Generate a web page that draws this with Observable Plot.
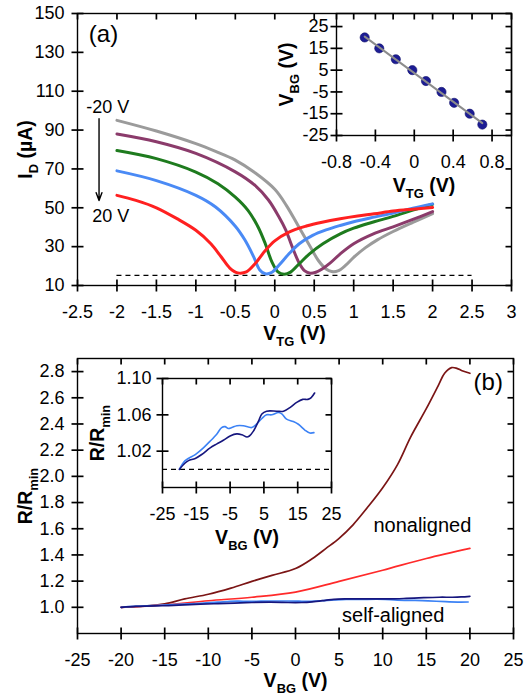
<!DOCTYPE html>
<html><head><meta charset="utf-8">
<script src="https://cdn.jsdelivr.net/npm/d3@7"></script>
<script src="https://cdn.jsdelivr.net/npm/@observablehq/plot@0.6"></script>
<style>
body{margin:0;background:#fff;}
#wrap{position:relative;width:532px;height:695px;overflow:hidden;background:#fff;}
#wrap > svg{position:absolute;left:0;}
</style></head><body><div id="wrap"></div>
<script>
// ================= Panel (a) data =================
const aXTicks = [-2.5,-2,-1.5,-1,-0.5,0,0.5,1,1.5,2,2.5,3];
const aYTicks = [10,30,50,70,90,110,130,150];
const curveNames = ["-20 V","-10 V","0 V","10 V","20 V"];

const grayX   = [-2,-1.5,-1,-0.75,-0.5,-0.25,0,0.15,0.3,0.45,0.55,0.65,0.72,0.8,0.9,1.0,1.15,1.3,1.5,1.75,2];
const grayY   = [95,89.5,83,79,74.5,68,59.5,51,40.5,30,23,18.5,17.2,17.5,20.5,24.5,29.5,33.5,37.8,42.5,47];
const purpleX = [-2,-1.5,-1,-0.5,-0.25,-0.08,0.05,0.14,0.22,0.31,0.38,0.45,0.52,0.6,0.7,0.83,1.0,1.25,1.5,1.75,2];
const purpleY = [88,84,78,68.5,61.5,54,45.5,38.5,30,21.5,17.5,16.3,16.8,18.5,21.5,26.3,31.5,36.6,40.2,44,48];
const greenX  = [-2,-1.5,-1,-0.72,-0.5,-0.34,-0.21,-0.12,-0.035,0.04,0.12,0.2,0.31,0.44,0.61,0.83,1.0,1.26,1.5,1.75,2];
const greenY  = [79.5,75.3,68.4,62.4,55.5,48.7,40,31.5,22,17,15.8,16.9,21.2,26.3,31.5,36.6,39.5,42.8,45.6,48.8,51.8];
const blueX   = [-2,-1.5,-1,-0.75,-0.5,-0.38,-0.27,-0.19,-0.12,-0.035,0.05,0.18,0.31,0.48,0.65,0.83,1.0,1.26,1.5,1.75,2];
const blueY   = [69,64,56.4,50.4,40.5,33.5,25,18,16,16.8,20.3,26.3,31.5,35.8,38.6,40.9,42.8,45.2,47.3,49.8,52];
const redX    = [-2,-1.76,-1.5,-1.24,-1,-0.81,-0.68,-0.57,-0.47,-0.36,-0.25,-0.12,0,0.18,0.4,0.6,0.83,1.05,1.26,1.5,1.75,2];
const redY    = [56.4,53.8,50,44.4,38.4,31.5,24.8,19,16.5,17,21.2,28,33,37.5,40.6,42.6,44.4,45.8,46.9,48.3,49.3,50.2];

const aDashLevel = [15.2];
const aDashFrom = -2, aDashTo = 2.5;
const aArrowX = -2.227, aArrowFrom = 95.8, aArrowTo = 53.7;
const aNoteText = ["(a)", "-20 V", "20 V"];
const aNoteX = [-2.17, -2.116, -2.08];
const aNoteY = [139.5, 101.8, 45.5];

// Inset (a): Dirac point position vs back gate
const insetAXTicks = [-0.8,-0.4,0,0.4,0.8];
const insetAYTicks = [-25,-15,-5,5,15,25];
const diracVTG = [-0.51,-0.36,-0.19,-0.02,0.12,0.28,0.41,0.57,0.70];
const diracVBG = [20,15,10,5,0,-5,-10,-15,-20];

// ================= Panel (b) data =================
const bXTicks = [-25,-20,-15,-10,-5,0,5,10,15,20,25];
const bYTicks = [1.0,1.2,1.4,1.6,1.8,2.0,2.2,2.4,2.6,2.8];
const darkRedX = [-20,-17.5,-15,-12.7,-10,-7.4,-5,-2.7,0,1.95,3.5,5,6.6,8.2,10,11.7,13.2,15,16.4,17.1,17.9,18.5,19.1,20];
const darkRedY = [1.0,1.008,1.026,1.064,1.10,1.147,1.198,1.244,1.296,1.373,1.45,1.527,1.63,1.758,1.913,2.09,2.30,2.517,2.697,2.787,2.83,2.825,2.807,2.787];
const lightRedX = [-20,-15,-10,-5,0,5,10,15,20];
const lightRedY = [1.0,1.018,1.05,1.077,1.116,1.198,1.283,1.373,1.45];
const navyX = [-20,-18.3,-17.3,-15.3,-13.4,-10.9,-8.9,-7,-5,-3,-1.5,0,0.7,1.9,3.4,4.4,5.8,8.8,10.8,12.7,14.7,16.5,18,19,20];
const navyY = [1.0,1.007,1.0096,1.012,1.0163,1.0237,1.028,1.032,1.0367,1.039,1.038,1.0356,1.0367,1.042,1.053,1.061,1.064,1.064,1.064,1.068,1.0737,1.077,1.077,1.079,1.084];
const skyX = [-20,-18.3,-15.3,-12.9,-10.9,-8.9,-7.5,-6.5,-5.5,-4.5,-3,-1.1,0.4,1.4,2.9,4.4,5.8,7.3,9.3,10.3,11.7,13.7,15.2,17.2,18.6,19.8];
const skyY = [1.0,1.0096,1.0163,1.0237,1.031,1.039,1.046,1.047,1.045,1.046,1.048,1.048,1.0467,1.046,1.05,1.056,1.06,1.06,1.0626,1.061,1.0552,1.0526,1.0496,1.043,1.04,1.0404];
const bNoteText = ["(b)", "nonaligned", "self-aligned"];
const bNoteX = [22.1, 14.55, 11.2];
const bNoteY = [2.72, 1.625, 0.936];

const insetBXTicks = [-25,-15,-5,5,15,25];
const insetBYTicks = [1.02,1.06,1.10];
const insetBDash = [1.0];

// ================= styles =================
const FONT = "Arial, 'Liberation Sans', Helvetica, sans-serif";
const STYLE = {fontFamily: FONT, fontSize: "18px", color: "black", background: "transparent", overflow: "visible"};
const LW = 1.4;
const TW = 1.7;
const aColors = ["#9b9b9b", "#8b3b6b", "#1e7b1e", "#4a8af5", "#ff2020"];
const aCurves = [[grayX, grayY], [purpleX, purpleY], [greenX, greenY], [blueX, blueY], [redX, redY]];

// Excel-like frame: ticks crossing the left/bottom axes, inward ticks on top/right.
// Each tick is a two-point line segment; pixel lengths are converted to data units.
function frameAxes(dims, xDom, yDom, {xTicks, yTicks, xFmt, yFmt, half = 6, xPad = 20, yPad = 13}) {
  const W = dims.width - dims.marginLeft - dims.marginRight;
  const H = dims.height - dims.marginTop - dims.marginBottom;
  const px = half * (xDom[1] - xDom[0]) / W, py = half * (yDom[1] - yDom[0]) / H;
  const segX = [], segY = [], segZ = [];
  const seg = (x1, y1, x2, y2) => { const k = segZ.length; segX.push(x1, x2); segY.push(y1, y2); segZ.push(k, k); };
  xTicks.forEach(t => { seg(t, yDom[0] - py, t, yDom[0] + py); seg(t, yDom[1] - py, t, yDom[1]); });
  yTicks.forEach(t => { seg(xDom[0] - px, t, xDom[0] + px, t); seg(xDom[1] - px, t, xDom[1], t); });
  return [
    Plot.frame({stroke: "#000", strokeWidth: LW}),
    Plot.line(segX, {x: segX, y: segY, z: segZ, stroke: "#000", strokeWidth: TW, strokeLinecap: "butt"}),
    Plot.axisX(xTicks, {anchor: "bottom", tickSize: 0, tickPadding: xPad, tickFormat: xFmt, label: null}),
    Plot.axisY(yTicks, {anchor: "left", tickSize: 0, tickPadding: yPad, tickFormat: yFmt, label: null})
  ];
}
const title = (t, opts) => Plot.text([t], {text: d => d, fontWeight: "bold", fontSize: 19.5, textAnchor: "middle", lineAnchor: "middle", ...opts});

const SUBS = [
  ["ID (µA)", "I", "D", " (µA)"],
  ["VTG (V)", "V", "TG", " (V)"],
  ["VBG (V)", "V", "BG", " (V)"],
  ["R/Rmin", "R/R", "min", ""]
];
function applySubs(svg) {
  svg.querySelectorAll("text").forEach(t => {
    const s = SUBS.find(d => d[0] === t.textContent);
    if (!s) return;
    const fs = parseFloat(getComputedStyle(t).fontSize) || 19;
    while (t.firstChild) t.removeChild(t.firstChild);
    const ns = "http://www.w3.org/2000/svg";
    const a = document.createElementNS(ns, "tspan"); a.textContent = s[1];
    const b = document.createElementNS(ns, "tspan"); b.textContent = s[2];
    b.setAttribute("font-size", (fs * 0.66).toFixed(1)); b.setAttribute("dy", (fs * 0.3).toFixed(1));
    t.appendChild(a); t.appendChild(b);
    if (s[3]) {
      const c = document.createElementNS(ns, "tspan"); c.textContent = s[3];
      c.setAttribute("font-size", fs); c.setAttribute("dy", (-fs * 0.3).toFixed(1));
      t.appendChild(c);
    }
  });
}
const wrap = document.getElementById("wrap");
function place(svg, top) { svg.style.top = top + "px"; wrap.appendChild(svg); applySubs(svg); }

// ================= Panel (a) =================
const dA = {width: 532, height: 340, marginLeft: 77, marginRight: 21, marginTop: 13, marginBottom: 55};
const xA = [-2.5, 3], yA = [10, 150];
const panelA = Plot.plot({
  ...dA, x: {domain: xA, axis: null}, y: {domain: yA, axis: null}, style: STYLE,
  marks: [
    ...frameAxes(dA, xA, yA, {xTicks: aXTicks, yTicks: aYTicks, xFmt: d => String(d), yFmt: d => String(d)}),
    Plot.ruleY(aDashLevel, {x1: aDashFrom, x2: aDashTo, stroke: "black", strokeWidth: LW, strokeDasharray: "5,4"}),
    ...aCurves.map(([xs, ys], i) => Plot.line(xs, {x: xs, y: ys, stroke: aColors[i], strokeWidth: 3, curve: "catmull-rom"})),
    Plot.arrow([0], {x1: aArrowX, x2: aArrowX, y1: aArrowFrom, y2: aArrowTo, stroke: "black", strokeWidth: 1.4, headLength: 9, headAngle: 40}),
    Plot.text(aNoteText, {x: aNoteX, y: aNoteY, text: d => d, fontSize: (d, i) => i === 0 ? 24 : 18}),
    title("ID (µA)", {frameAnchor: "left", rotate: -90, dx: -52}),
    title("VTG (V)", {frameAnchor: "bottom", dy: 48})
  ]
});
place(panelA, 0);

const dIA = {width: 532, height: 340, marginLeft: 336, marginRight: 21, marginTop: 13, marginBottom: 205};
const xIA = [-0.8, 1.0], yIA = [-25, 31];
const insetA = Plot.plot({
  ...dIA, x: {domain: xIA, axis: null}, y: {domain: yIA, axis: null}, style: STYLE,
  marks: [
    ...frameAxes(dIA, xIA, yIA, {xTicks: insetAXTicks, yTicks: insetAYTicks, xFmt: d => String(d), yFmt: d => String(d), yPad: 8}),
    Plot.dot(diracVTG, {x: diracVTG, y: diracVBG, r: 4.6, fill: "#1c1c94", stroke: "#10106a", strokeWidth: 0.6}),
    Plot.linearRegressionY(diracVTG, {x: diracVTG, y: diracVBG, ci: 0, stroke: "#8c8c8c", strokeWidth: 2}),
    title("VBG (V)", {frameAnchor: "left", rotate: -90, dx: -50}),
    title("VTG (V)", {frameAnchor: "bottom", dy: 50})
  ]
});
place(insetA, 0);

// ================= Panel (b) =================
const dB = {width: 532, height: 355, marginLeft: 77, marginRight: 19, marginTop: 18, marginBottom: 62};
const xB = [-25, 25], yB = [0.8, 2.9];
const panelB = Plot.plot({
  ...dB, x: {domain: xB, axis: null}, y: {domain: yB, axis: null}, style: STYLE,
  marks: [
    ...frameAxes(dB, xB, yB, {xTicks: bXTicks, yTicks: bYTicks, xFmt: d => String(d), yFmt: d => d.toFixed(1)}),
    Plot.line(darkRedX, {x: darkRedX, y: darkRedY, stroke: "#7b1515", strokeWidth: 1.7, curve: "catmull-rom"}),
    Plot.line(lightRedX, {x: lightRedX, y: lightRedY, stroke: "#ff2a2a", strokeWidth: 1.7, curve: "catmull-rom"}),
    Plot.line(skyX, {x: skyX, y: skyY, stroke: "#3c82f5", strokeWidth: 1.7, curve: "catmull-rom"}),
    Plot.line(navyX, {x: navyX, y: navyY, stroke: "#16167e", strokeWidth: 1.7, curve: "catmull-rom"}),
    Plot.text(bNoteText, {x: bNoteX, y: bNoteY, text: d => d, fontSize: (d, i) => i === 0 ? 24 : 20}),
    title("R/Rmin", {frameAnchor: "left", rotate: -90, dx: -52}),
    title("VBG (V)", {frameAnchor: "bottom", dy: 47})
  ]
});
place(panelB, 340);

const dIB = {width: 532, height: 355, marginLeft: 162, marginRight: 201, marginTop: 38, marginBottom: 208};
const xIB = [-25, 25], yIB = [0.98, 1.10];
const insetB = Plot.plot({
  ...dIB, x: {domain: xIB, axis: null}, y: {domain: yIB, axis: null}, style: STYLE,
  marks: [
    ...frameAxes(dIB, xIB, yIB, {xTicks: insetBXTicks, yTicks: insetBYTicks, xFmt: d => String(d), yFmt: d => d.toFixed(2), yPad: 11}),
    Plot.ruleY(insetBDash, {stroke: "black", strokeWidth: LW, strokeDasharray: "5,4"}),
    Plot.line(skyX, {x: skyX, y: skyY, stroke: "#3c82f5", strokeWidth: 1.6, curve: "catmull-rom"}),
    Plot.line(navyX, {x: navyX, y: navyY, stroke: "#16167e", strokeWidth: 1.6, curve: "catmull-rom"}),
    title("R/Rmin", {frameAnchor: "left", rotate: -90, dx: -65}),
    title("VBG (V)", {frameAnchor: "bottom", dy: 50})
  ]
});
place(insetB, 340);
</script></body></html>
